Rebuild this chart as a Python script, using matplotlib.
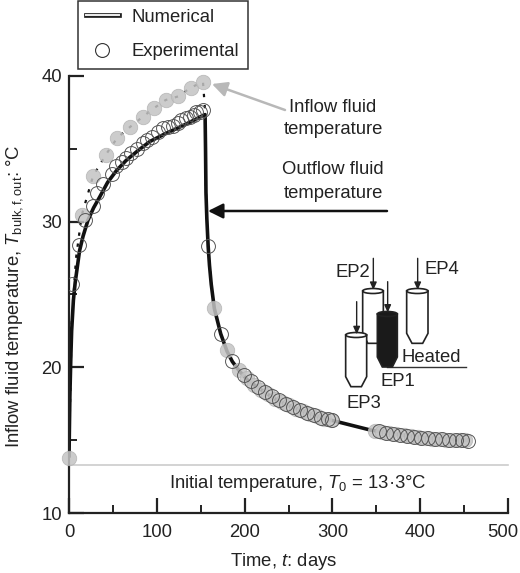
import matplotlib
matplotlib.use("Agg")
import matplotlib.pyplot as plt
import matplotlib.patheffects as pe
import matplotlib.transforms as mtrans
from matplotlib.lines import Line2D
from matplotlib.patches import Polygon, Ellipse

plt.rcParams['font.family'] = ['Liberation Sans', 'DejaVu Sans']
plt.rcParams['mathtext.fontset'] = 'custom'
plt.rcParams['mathtext.rm'] = 'Liberation Sans'
plt.rcParams['mathtext.it'] = 'Liberation Sans:italic'
plt.rcParams['mathtext.bf'] = 'Liberation Sans:bold'

# ---- data ----
num_t = [0, 0.5, 1, 2, 3, 5, 7, 12, 16, 21.6, 28, 35, 44, 54, 65, 78, 92, 110, 130, 145, 153, 155,
         155.5, 156, 157, 158.5, 160, 162, 165.5, 172.8, 180, 186, 194, 203, 213.8, 225, 236.5,
         250, 263, 276, 289.6, 310, 343, 373, 399.8, 426, 455]
num_T = [13.8, 16, 18, 20.5, 22.5, 24.6, 25.8, 28.0, 29.0, 30.1, 30.95, 31.7, 32.7, 33.5, 34.2, 34.85,
         35.5, 36.05, 36.6, 37.05, 37.3, 37.35,
         35, 32, 30.2, 28.3, 27, 25.7, 24.05, 22.3, 21.1, 20.4, 19.75, 19.15, 18.67, 18.2, 17.76,
         17.38, 17.07, 16.78, 16.5, 16.2, 15.7, 15.4, 15.2, 15.08, 15.0]

inflow_t = [0, 3, 8, 14.5, 27.5, 42, 55, 69.5, 84, 97, 110, 124.5, 138.6, 152.6, 155, 155.5, 156, 157, 158.5, 162]
inflow_T = [13.8, 23, 27.5, 30.45, 33.15, 34.6, 35.76, 36.5, 37.2, 37.8, 38.35, 38.6, 39.2, 39.6, 37.6, 35, 32, 30.2, 28.3, 25.7]

grey_t = [0, 14.5, 27.5, 42, 55, 69.5, 84, 97, 110, 124.5, 138.6, 152.6,
          165.5, 180, 194, 203, 211, 219, 227, 235, 243, 251, 259, 267, 275, 283, 291, 298,
          349, 357, 365, 373, 381, 389, 397, 405, 413, 421, 429, 437, 445, 451]
grey_T = [13.8, 30.45, 33.15, 34.6, 35.76, 36.5, 37.2, 37.8, 38.35, 38.6, 39.2, 39.6,
          24.05, 21.2, 19.85, 19.3, 18.8, 18.45, 18.15, 17.85, 17.6, 17.38, 17.17, 16.98, 16.8, 16.64, 16.47, 16.4,
          15.65, 15.57, 15.48, 15.4, 15.33, 15.27, 15.2, 15.15, 15.11, 15.07, 15.04, 15.0, 15.0, 15.0]

open_t = [3, 11, 18, 27, 32, 39, 48.6, 54, 60, 65, 71, 77, 84, 89, 94, 101, 107.5, 113, 119, 124, 128,
          133, 138, 142, 145, 149, 153,
          158.5, 172.8, 186, 199, 207, 215, 223, 231, 239, 247, 255, 263, 271, 279, 287, 295, 299,
          353, 361, 369, 377, 385, 393, 401, 409, 417, 425, 433, 441, 448, 454]
open_T = [25.7, 28.4, 30.1, 31.1, 32.0, 32.6, 33.3, 33.8, 34.1, 34.35, 34.7, 35.0, 35.4, 35.6, 35.8, 36.15, 36.4, 36.5, 36.6, 36.8, 37.0,
          37.1, 37.2, 37.35, 37.5, 37.55, 37.65,
          28.3, 22.3, 20.45, 19.5, 19.05, 18.65, 18.3, 18.0, 17.75, 17.5, 17.27, 17.07, 16.88, 16.7, 16.55, 16.42, 16.4,
          15.62, 15.52, 15.44, 15.37, 15.3, 15.24, 15.18, 15.13, 15.09, 15.05, 15.02, 15.0, 14.98, 14.95]

initial_T = 13.3
x_major = [0, 100, 200, 300, 400, 500]
x_minor = [50, 150, 250, 350, 450]
y_major = [10, 20, 30, 40]
y_minor = [15, 25, 35]

W, H = 520, 573
DARK = '#222222'
FS = 13.3
fig = plt.figure(figsize=(W / 100, H / 100), dpi=100)
ax = fig.add_axes([69 / W, 1 - 513 / H, (508 - 69) / W, (513 - 76) / H])
ax.set_xlim(0, 500)
ax.set_ylim(10, 40)
for s in ('top', 'right'):
    ax.spines[s].set_visible(False)
for s in ('left', 'bottom'):
    ax.spines[s].set_linewidth(1.6)
    ax.spines[s].set_color(DARK)
ax.set_xticks(x_major)
ax.set_xticks(x_minor, minor=True)
ax.set_yticks(y_major)
ax.set_yticks(y_minor, minor=True)
ax.tick_params(which='major', direction='in', length=11, width=1.6, color=DARK, labelsize=FS, labelcolor=DARK)
ax.tick_params(which='minor', direction='in', length=5.8, width=1.4, color=DARK)
ax.tick_params(axis='x', which='major', pad=8)
ax.tick_params(axis='y', which='major', pad=5)
last = ax.get_xticklabels()[-1]
last.set_transform(last.get_transform() + mtrans.ScaledTranslation(-5 / 100, 0, fig.dpi_scale_trans))
ax.set_xlabel('Time, $\\mathit{t}$: days', fontsize=FS, color=DARK, labelpad=7, x=0.49)
ax.set_ylabel('Inflow fluid temperature, $\\mathit{T}_{\\mathrm{bulk,f,out}}$: °C', fontsize=FS, color=DARK)
ax.yaxis.set_label_coords((25 - 69) / (508 - 69), (513 - 296.5) / (513 - 76))

ax.axhline(initial_T, color='#cccccc', lw=1.2, zorder=1, clip_on=False)
ax.plot(inflow_t, inflow_T, color='#111111', lw=1.6, dashes=(1.5, 3.5), zorder=2)
ax.plot(num_t, num_T, color='#111111', lw=2.6, zorder=2.5, solid_capstyle='butt')
ax.plot(grey_t, grey_T, ls='none', marker='o', ms=10.4, mfc='#c4c4c4', mec='#b4b4b4', mew=0.6, alpha=0.85,
        zorder=3, clip_on=False)
ax.plot(open_t, open_T, ls='none', marker='o', ms=10, mfc='none', mec='#555555', mew=0.7, zorder=3.5)
ax.text(261, 12.05, 'Initial temperature, $\\mathit{T}_{0}$ = 13·3°C', ha='center', va='center',
        fontsize=FS, color=DARK)

# overlay in picture pixels for annotations and the small sketch
ov = fig.add_axes([0, 0, 1, 1], facecolor='none')
ov.set_xlim(0, W)
ov.set_ylim(H, 0)
ov.axis('off')

ov.annotate('', xy=(212, 84), xytext=(285, 110),
            arrowprops=dict(arrowstyle='-|>,head_length=0.9,head_width=0.45', color='#b8b8b8', lw=1.8,
                            shrinkA=0, shrinkB=0))
ov.annotate('', xy=(208, 211), xytext=(387, 211),
            arrowprops=dict(arrowstyle='-|>,head_length=0.9,head_width=0.45', color='#111111', lw=1.8,
                            shrinkA=0, shrinkB=0))
for txt, cy in [('Inflow fluid', 107), ('temperature', 130), ('Outflow fluid', 170), ('temperature', 194)]:
    ov.text(333, cy, txt, ha='center', va='center', fontsize=FS, color=DARK)


def zx(v):
    return 190 + v / 3


def zy(v):
    return 240 + v / 3


def tube(x0, x1, top, bot, fc, z):
    ins = (x1 - x0) * 0.25
    xa, xb = zx(x0), zx(x1)
    pts = [(xa, zy(top)), (xb, zy(top)), (xb, zy(bot - 30)), (zx(x1 - ins), zy(bot)),
           (zx(x0 + ins), zy(bot)), (xa, zy(bot - 30))]
    ov.add_patch(Polygon(pts, closed=True, fc=fc, ec='#222222', lw=1.2, zorder=z))
    ov.add_patch(Ellipse((zx((x0 + x1) / 2), zy(top)), xb - xa, 5, fc=fc, ec='#222222', lw=1.2, zorder=z))


def down(x, y0, y1):
    ov.annotate('', xy=(zx(x), zy(y1)), xytext=(zx(x), zy(y0)), zorder=8,
                arrowprops=dict(arrowstyle='-|>,head_length=0.45,head_width=0.2', color='#222222', lw=1,
                                shrinkA=0, shrinkB=0))


tube(518, 580, 153, 310, 'white', 5)
tube(650, 714, 153, 310, 'white', 5)
tube(467, 530, 285, 440, 'white', 6)
tube(562, 622, 222, 381, '#1a1a1a', 7)
down(550, 55, 150)
down(593, 125, 218)
down(500, 185, 283)
down(683, 55, 150)
ov.plot([zx(590), zx(827)], [zy(380), zy(380)], color='#333333', lw=1, zorder=6)
for label, zxc, zyc in [('EP2', 488, 97), ('EP4', 755, 90), ('Heated', 724, 351), ('EP1', 623, 424), ('EP3', 522, 490)]:
    ov.text(zx(zxc), zy(zyc), label, ha='center', va='center', fontsize=FS, color=DARK, zorder=9)

num_handle = Line2D([], [], color='#eeeeee', lw=1.4,
                    path_effects=[pe.withStroke(linewidth=3.4, foreground='#222222')])
exp_handle = Line2D([], [], ls='none', marker='o', ms=10, mfc='white', mec='#333333', mew=0.8)
leg = ov.legend([num_handle, exp_handle], ['Numerical', 'Experimental'],
                loc='upper left', bbox_to_anchor=(78, 0.5), bbox_transform=ov.transData,
                frameon=True, fancybox=False, edgecolor='#333333', framealpha=1, fontsize=FS,
                borderpad=0.45, borderaxespad=0, labelspacing=0.95, handlelength=1.75, handletextpad=0.7,
                labelcolor=DARK)
leg.get_frame().set_linewidth(1.1)

fig.savefig('out.png', dpi=100)
